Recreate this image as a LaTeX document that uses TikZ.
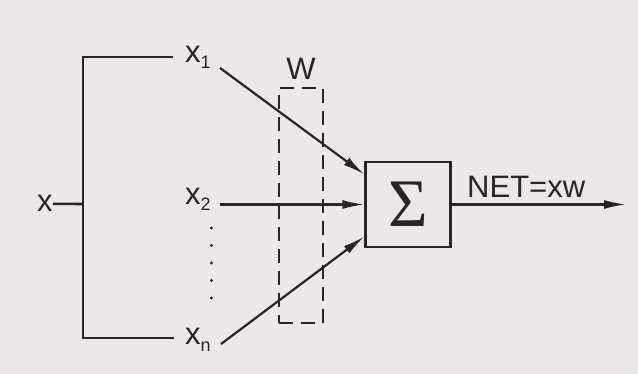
\documentclass[tikz,border=0pt]{standalone}
\usepackage{fontspec}
\setmainfont{Liberation Sans}
\newfontfamily\sigmafont{Liberation Serif}
\usetikzlibrary{arrows.meta}
\definecolor{ink}{HTML}{262626}
\definecolor{paper}{HTML}{ECE8E9}
% subscript index set below the baseline
\newcommand\subidx[1]{\raisebox{-6pt}{\fontsize{18}{18}\selectfont #1}}
\begin{document}
\begin{tikzpicture}[x=1pt,y=-1pt,
  lbl/.style={inner sep=0pt, font=\fontsize{31}{31}\selectfont, text=ink},
  wire/.style={draw=ink, line width=2.6pt},
  arr/.style={draw=ink, line width=2.2pt, -{Latex[length=22pt,width=9pt]}},
  weightbox/.style={draw=ink, line width=2pt, dash pattern=on 14pt off 8pt,
    minimum width=44pt, minimum height=235pt, inner sep=0pt},
  sumbox/.style={draw=ink, line width=2.2pt, minimum size=85pt, inner sep=0pt,
    font=\sigmafont\fontsize{68}{68}\selectfont, text=ink}]
\fill[paper] (0,0) rectangle (638,374);
\useasboundingbox (0,0) rectangle (638,374);

% input and its fan-out into the components
\node[lbl, anchor=base west] (x)  at (37,212)  {x};
\node[lbl, anchor=base west] (x1) at (185,63)  {x\subidx{1}};
\node[lbl, anchor=base west] (x2) at (185,205) {x\subidx{2}};
\node[lbl, anchor=base west] (xn) at (185,345) {x\subidx{n}};

\coordinate (bt) at (83,57);
\coordinate (bm) at (83,204);
\coordinate (bb) at (83,338);
\coordinate (te) at (173,57);
\coordinate (be) at (174,338);
\draw[wire] (te) -- (bt) -- (bb) -- (be);
\draw[wire] (x.east) -- (bm);

% vertical ellipsis between x2 and xn
\foreach \i in {0,...,4}
  \fill[ink] (211.5,{228+17.5*\i}) circle (1.7);

% weights
\node[weightbox] (wbox) at (301,205.5) {};
\node[lbl, anchor=base] (w) at (301,80) {W};

% summing unit
\node[sumbox] (sum) at (408,204.5) {Σ};

\coordinate (s1) at (220,68);
\coordinate (s2) at (220,204.5);
\coordinate (sn) at (221,344);
\coordinate (in1) at ([yshift=30pt]sum.west);
\coordinate (in3) at ([yshift=-32pt]sum.west);
\draw[arr] (s1) -- (in1);
\draw[arr] (s2) -- (sum.west);
\draw[arr] (sn) -- (in3);

% output
\coordinate (out) at (626,204.5);
\draw[arr] (sum.east) -- (out);
\node[lbl, anchor=base west] (net) at (467,198) {NET=xw};
\end{tikzpicture}
\end{document}
